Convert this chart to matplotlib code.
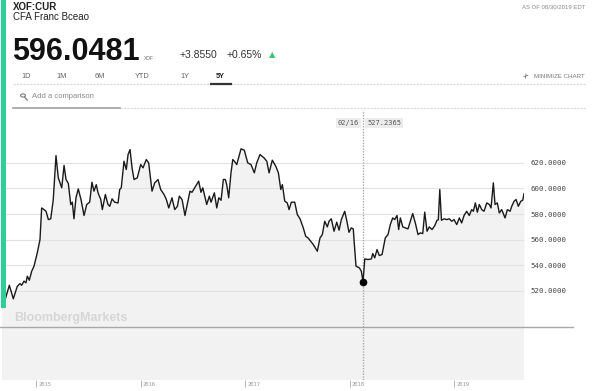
import numpy as np
import matplotlib
matplotlib.use("Agg")
import matplotlib.pyplot as plt
from matplotlib.lines import Line2D
from matplotlib.patches import Rectangle, Circle, FancyArrowPatch
from matplotlib.transforms import blended_transform_factory

plt.rcParams['font.family'] = ['Liberation Sans', 'DejaVu Sans']

# XOF:CUR closing rates (time as decimal years)
t_2014 = [2014.672, 2014.704, 2014.745, 2014.783, 2014.821, 2014.847, 2014.863,
          2014.885, 2014.904, 2014.917, 2014.936, 2014.959, 2014.981]
rate_2014 = [506.7, 513.0, 524.4, 513.8, 523.6, 525.7, 524.4,
             527.6, 526.3, 531.5, 528.3, 535.4, 539.3]

t_2015 = [2015.012, 2015.038, 2015.054, 2015.076, 2015.096, 2015.118, 2015.141, 2015.165,
          2015.191, 2015.213, 2015.246, 2015.268, 2015.287, 2015.309, 2015.332, 2015.347,
          2015.363, 2015.382, 2015.404, 2015.430, 2015.459, 2015.485, 2015.513, 2015.535,
          2015.554, 2015.576, 2015.593, 2015.619, 2015.634, 2015.663, 2015.688, 2015.705,
          2015.727, 2015.752, 2015.784, 2015.800, 2015.815, 2015.841, 2015.863, 2015.880,
          2015.899, 2015.918, 2015.937, 2015.968]
rate_2015 = [549.7, 560.0, 584.8, 583.5, 582.2, 575.7, 576.3, 591.4,
             625.7, 608.3, 600.5, 618.0, 607.0, 603.9, 587.4, 589.3,
             576.3, 592.7, 599.7, 591.4, 578.9, 587.5, 589.3, 604.9,
             597.9, 603.0, 596.6, 591.4, 583.5, 595.3, 587.5, 586.1,
             591.9, 589.3, 588.7, 599.2, 600.5, 621.3, 614.8, 626.5,
             630.4, 616.1, 607.0, 608.3]

t_2016 = [2016.001, 2016.023, 2016.054, 2016.077, 2016.109, 2016.135, 2016.166, 2016.192,
          2016.224, 2016.246, 2016.269, 2016.300, 2016.326, 2016.351, 2016.370, 2016.396,
          2016.424, 2016.450, 2016.472, 2016.491, 2016.523, 2016.555, 2016.577, 2016.594,
          2016.632, 2016.657, 2016.673, 2016.705, 2016.728, 2016.747, 2016.769, 2016.791,
          2016.810, 2016.823, 2016.842, 2016.864, 2016.881, 2016.896, 2016.919, 2016.960,
          2016.991]
rate_2016 = [618.7, 616.1, 622.6, 620.0, 597.9, 604.4, 607.0, 599.2,
             595.3, 591.4, 584.8, 592.7, 583.5, 586.0, 594.0, 591.4,
             578.9, 589.3, 597.9, 597.0, 601.3, 605.7, 597.0, 600.5,
             587.5, 594.0, 589.3, 596.6, 584.8, 592.7, 590.8, 607.0,
             607.0, 603.0, 592.7, 612.2, 622.6, 621.3, 618.7, 631.0,
             629.9]

t_2017 = [2017.024, 2017.055, 2017.087, 2017.110, 2017.141, 2017.180, 2017.206, 2017.228,
          2017.259, 2017.292, 2017.317, 2017.340, 2017.355, 2017.378, 2017.402, 2017.419,
          2017.441, 2017.473, 2017.498, 2017.524, 2017.555, 2017.578, 2017.600, 2017.626,
          2017.651, 2017.689, 2017.715, 2017.737, 2017.760, 2017.785, 2017.801, 2017.823,
          2017.849, 2017.875, 2017.897, 2017.919, 2017.951, 2017.970, 2017.992]
rate_2017 = [620.0, 618.7, 612.2, 620.0, 626.5, 623.9, 621.3, 612.2,
             622.1, 617.4, 612.2, 599.2, 603.0, 590.1, 588.7, 583.5,
             589.3, 589.3, 579.6, 576.3, 569.2, 562.7, 561.4, 558.8,
             556.2, 551.0, 561.4, 564.0, 574.4, 570.0, 574.4, 576.3,
             566.6, 573.7, 567.4, 575.7, 582.2, 575.2, 565.8]

t_2018 = [2018.014, 2018.033, 2018.040, 2018.059, 2018.091, 2018.110, 2018.126, 2018.143,
          2018.174, 2018.206, 2018.219, 2018.238, 2018.260, 2018.282, 2018.308, 2018.339,
          2018.365, 2018.387, 2018.410, 2018.429, 2018.451, 2018.467, 2018.483, 2018.506,
          2018.531, 2018.556, 2018.578, 2018.601, 2018.626, 2018.652, 2018.674, 2018.697,
          2018.716, 2018.738, 2018.760, 2018.786, 2018.812, 2018.834, 2018.846, 2018.860,
          2018.876, 2018.901, 2018.926, 2018.951, 2018.974, 2018.996]
rate_2018 = [569.2, 568.4, 560.0, 539.3, 538.0, 535.4, 527.2365, 545.0,
             544.5, 545.0, 549.2, 545.8, 552.3, 547.6, 548.4, 561.4,
             564.0, 571.8, 577.0, 575.7, 578.9, 567.9, 577.0, 570.0,
             569.2, 568.4, 574.4, 580.4, 573.1, 564.0, 565.3, 564.8,
             581.5, 566.6, 570.0, 567.9, 571.0, 575.2, 575.5, 599.2,
             575.2, 576.3, 575.7, 576.3, 574.4, 575.7]

t_2019 = [2019.022, 2019.047, 2019.069, 2019.092, 2019.117, 2019.142, 2019.165, 2019.181,
          2019.200, 2019.219, 2019.238, 2019.261, 2019.283, 2019.309, 2019.334, 2019.350,
          2019.372, 2019.388, 2019.410, 2019.429, 2019.452, 2019.484, 2019.506, 2019.532,
          2019.548, 2019.570, 2019.589, 2019.611, 2019.634, 2019.653, 2019.665]
rate_2019 = [571.8, 577.0, 573.1, 578.9, 582.2, 578.9, 583.5, 582.2,
             588.7, 581.5, 587.5, 583.5, 582.2, 588.7, 587.5, 584.8,
             604.4, 587.5, 588.7, 580.9, 583.5, 577.0, 583.5, 582.2,
             586.1, 590.0, 591.4, 586.1, 590.0, 590.8, 596.0481]

year_ticks = [2015, 2016, 2017, 2018, 2019]
price_ticks = [520, 540, 560, 580, 600, 620]
tabs = ["1D", "1M", "6M", "YTD", "1Y", "5Y"]
hover_t, hover_date, hover_rate = 2018.126, "02/16", 527.2365

t = np.array(t_2014 + t_2015 + t_2016 + t_2017 + t_2018 + t_2019)
rate = np.array(rate_2014 + rate_2015 + rate_2016 + rate_2017 + rate_2018 + rate_2019)

W, H = 595, 391


def fx(x):
    return x / W


def fy(y):
    return 1 - y / H


fig = plt.figure(figsize=(W / 100, H / 100), dpi=100)

# green accent bar on the left
fig.patches.append(Rectangle((fx(1), fy(308)), fx(6.5) - fx(1), 308 / H,
                             transform=fig.transFigure, color='#2bcf97', lw=0))

# header
fig.text(fx(12.5), fy(7), "XOF:CUR", fontsize=7, weight='bold', color='#222', va='center')
fig.text(fx(12.5), fy(17), "CFA Franc Bceao", fontsize=7, color='#222', va='center')
fig.text(fx(12), fy(60), "596.0481", fontsize=22, weight='bold', color='#111', va='baseline')
fig.text(fx(144), fy(60), "XOF", fontsize=3.5, color='#666', va='baseline')
fig.text(fx(180), fy(57.5), "+3.8550", fontsize=7.5, color='#333', va='baseline')
fig.text(fx(227), fy(57.5), "+0.65%", fontsize=7.5, color='#333', va='baseline')
fig.text(fx(268.5), fy(57.5), "\u25b2", fontsize=6, color='#3cc47c', va='baseline',
         family='DejaVu Sans')
fig.text(fx(585), fy(7.7), "AS OF 08/30/2019 EDT", fontsize=4.3, color='#888',
         va='center', ha='right')

tab_x = [21.7, 56.7, 95, 135, 180, 216]
for lab, x in zip(tabs, tab_x):
    fig.text(fx(x), fy(76), lab, fontsize=5.3, va='center',
             color='#222' if lab == "5Y" else '#666',
             weight='bold' if lab == "5Y" else 'normal')
fig.text(fx(585), fy(76), "MINIMIZE CHART", fontsize=4.4, color='#777', va='center', ha='right')
# minimize icon: small double-headed diagonal arrow
fig.patches.append(FancyArrowPatch((fx(523.5), fy(78.5)), (fx(528), fy(73.5)),
                                   transform=fig.transFigure, arrowstyle='<->,head_length=1.2,head_width=0.9',
                                   color='#777', lw=0.6))

fig.lines.append(Line2D([fx(13), fx(585)], [fy(83.5)] * 2, transform=fig.transFigure,
                        color='#d8d8d8', lw=0.8, ls=(0, (2, 1))))
fig.lines.append(Line2D([fx(211), fx(231)], [fy(83.5)] * 2, transform=fig.transFigure,
                        color='#333', lw=1.6))

# comparison search row
fig.patches.append(Circle((fx(23), fy(95.5)), 2.4 / W, transform=fig.transFigure,
                          fill=False, ec='#777', lw=0.8))
fig.lines.append(Line2D([fx(24.8), fx(27.3)], [fy(97.5), fy(100)], transform=fig.transFigure,
                        color='#777', lw=0.9))
fig.text(fx(32), fy(97), "Add a comparison", fontsize=5.5, color='#888', va='center')
fig.lines.append(Line2D([fx(120), fx(585)], [fy(107.5)] * 2, transform=fig.transFigure,
                        color='#d8d8d8', lw=0.8, ls=(0, (2, 1))))
fig.lines.append(Line2D([fx(13), fx(120)], [fy(107.5)] * 2, transform=fig.transFigure,
                        color='#999', lw=1.1))

# price panel
x0, x1 = 1.7, 524
ybot = 491.8
ax = fig.add_axes([fx(x0), fy(327), fx(x1) - fx(x0), (327 - 110) / H])
ax.set_xlim(t[0], t[-1])
ax.set_ylim(ybot, 661.3)
ax.fill_between(t, rate, ybot, color='#f2f2f2', lw=0, zorder=0.1)
ax.plot(t, rate, color='#1a1a1a', lw=1.0, zorder=2)
ax.set_yticks(price_ticks)
ax.set_yticklabels([f"{v:.4f}" for v in price_ticks])
ax.yaxis.tick_right()
ax.tick_params(axis='y', length=0, pad=5, labelsize=5.3, labelcolor='#444')
for lab in ax.get_yticklabels():
    lab.set_family('DejaVu Sans Mono')
ax.set_xticks([])
ax.set_axisbelow(True)
ax.grid(axis='y', color='#e2e2e2', lw=0.8)
for s in ax.spines.values():
    s.set_visible(False)

ax.axvline(hover_t, color='#aaa', lw=1, ls=(0, (1, 1)), zorder=1.5)
ax.plot([hover_t], [hover_rate], 'o', color='black', ms=4.5, zorder=5)
box = dict(boxstyle='square,pad=0.3', fc='#ececec', ec='none')
ax.annotate(hover_date, xy=(hover_t, 1), xycoords=('data', 'axes fraction'),
            xytext=(-3, -9.5), textcoords='offset points', ha='right', va='center',
            fontsize=5, family='DejaVu Sans Mono', color='#555', bbox=box)
ax.annotate(f"{hover_rate:.4f}", xy=(hover_t, 1), xycoords=('data', 'axes fraction'),
            xytext=(3, -9.5), textcoords='offset points', ha='left', va='center',
            fontsize=5, family='DejaVu Sans Mono', color='#555', bbox=box)

fig.text(fx(14), fy(318), "BloombergMarkets", fontsize=9, weight='bold',
         color='#d6d6d6', va='center')

# volume panel (empty)
axv = fig.add_axes([fx(x0), fy(380), fx(x1) - fx(x0), (380 - 327) / H])
axv.set_facecolor('#f2f2f2')
axv.set_xlim(t[0], t[-1])
axv.set_yticks([])
axv.set_xticks(year_ticks)
axv.set_xticklabels([])
axv.tick_params(axis='x', length=5, width=0.6, color='#aaa')
for s in axv.spines.values():
    s.set_visible(False)
axv.axvline(hover_t, color='#aaa', lw=1, ls=(0, (1, 1)))
tr = blended_transform_factory(axv.transData, fig.transFigure)
for yr in year_ticks:
    axv.annotate(str(yr), xy=(yr, fy(384.5)), xycoords=tr, xytext=(1.5, 0),
                 textcoords='offset points', ha='left', va='center',
                 fontsize=4, color='#999', family='DejaVu Sans Mono')

fig.lines.append(Line2D([fx(0), fx(573)], [fy(327)] * 2, transform=fig.transFigure,
                        color='#a8a8a8', lw=1))

fig.savefig("out.png", dpi=100)
